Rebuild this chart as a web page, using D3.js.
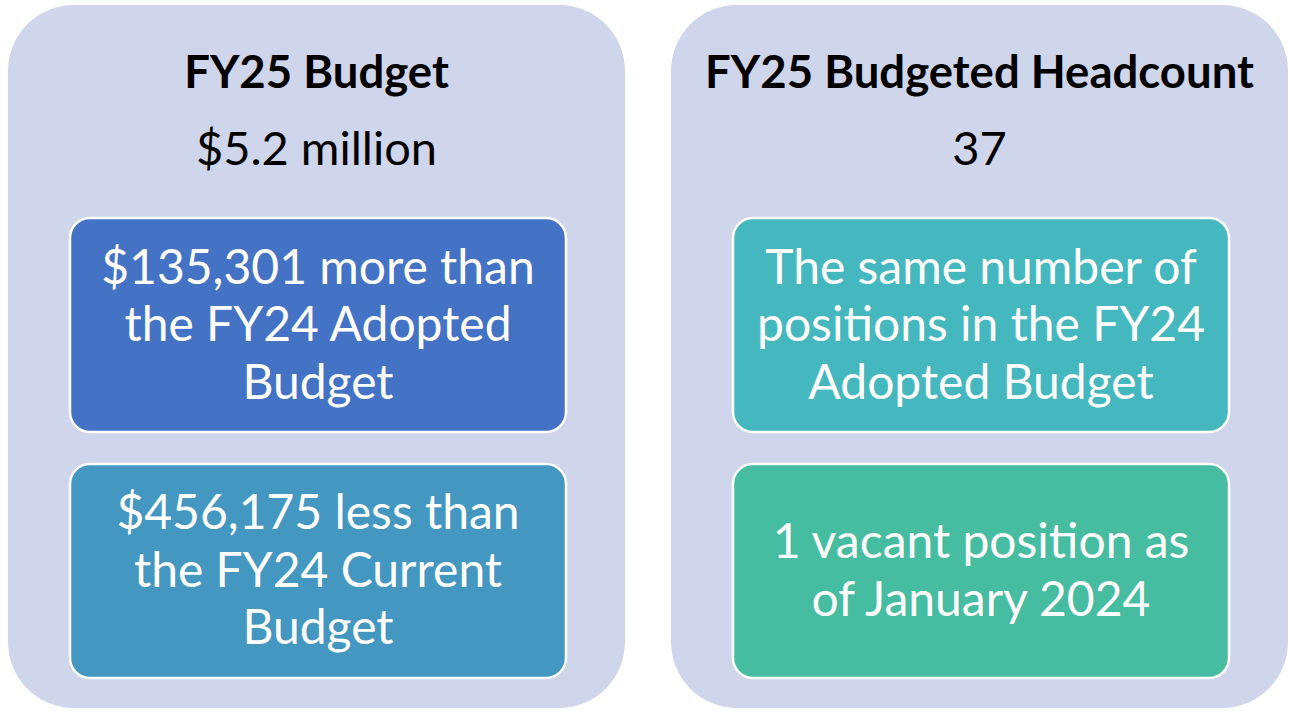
<!DOCTYPE html>
<meta charset="utf-8">
<style>
body { margin: 0; background: #fff; }
text { font-family: "Lato", "Open Sans", sans-serif; }
</style>
<body>
<svg width="1289" height="711"></svg>
<script src="https://d3js.org/d3.v7.min.js"></script>
<script>

var panelTitles = ["FY25 Budget", "FY25 Budgeted Headcount"];
var panelValues = ["$5.2 million", "37"];
var boxLines = [
  [["$135,301 more than", "the FY24 Adopted", "Budget"],
   ["$456,175 less than", "the FY24 Current", "Budget"]],
  [["The same number of", "positions in the FY24", "Adopted Budget"],
   ["1 vacant position as", "of January 2024"]]
];
var boxColors = [["#4472C4", "#4397C1"], ["#45B7BE", "#46BCA0"]];

var svg = d3.select("svg"),
    width = +svg.attr("width"),
    height = +svg.attr("height");

var x = d3.scaleBand()
    .domain(d3.range(panelTitles.length))
    .range([8, 1288])
    .paddingInner(0.0694);

var row = d3.scaleBand()
    .domain([0, 1])
    .range([218, 678])
    .paddingInner(0.13);

var panel = svg.selectAll(".panel")
  .data(panelTitles)
  .enter().append("g")
    .attr("class", "panel")
    .attr("transform", function(d, i) { return "translate(" + x(i) + ",0)"; });

panel.append("rect")
    .attr("y", 5)
    .attr("width", x.bandwidth())
    .attr("height", 703)
    .attr("rx", 66)
    .attr("fill", "#CFD5EA");

panel.append("text")
    .attr("x", x.bandwidth() / 2)
    .attr("y", 88)
    .attr("text-anchor", "middle")
    .style("font-weight", "bold")
    .style("font-size", "45.5px")
    .style("fill", "#000")
    .text(function(d) { return d; });

panel.append("text")
    .attr("x", x.bandwidth() / 2)
    .attr("y", 165)
    .attr("text-anchor", "middle")
    .style("font-size", "47px")
    .style("fill", "#000")
    .text(function(d, i) { return panelValues[i]; });

var boxW = 496, boxX = 62, lineH = 57.5;

panel.each(function(p, pi) {
  var g = d3.select(this);
  var box = g.selectAll(".box")
    .data(boxLines[pi])
    .enter().append("g")
      .attr("class", "box")
      .attr("transform", function(d, i) { return "translate(" + boxX + "," + row(i) + ")"; });

  box.append("rect")
      .attr("width", boxW)
      .attr("height", row.bandwidth())
      .attr("rx", 20)
      .attr("fill", function(d, i) { return boxColors[pi][i]; })
      .attr("stroke", "#fff")
      .attr("stroke-width", 2.5);

  box.each(function(lines) {
    var cy = row.bandwidth() / 2;
    d3.select(this).selectAll("text")
      .data(lines)
      .enter().append("text")
        .attr("x", boxW / 2)
        .attr("y", function(d, j) { return cy + (j - (lines.length - 1) / 2) * lineH + 16; })
        .attr("text-anchor", "middle")
        .style("font-size", "48px")
        .style("fill", "#fff")
        .text(function(d) { return d; });
  });
});

</script>
</body>
